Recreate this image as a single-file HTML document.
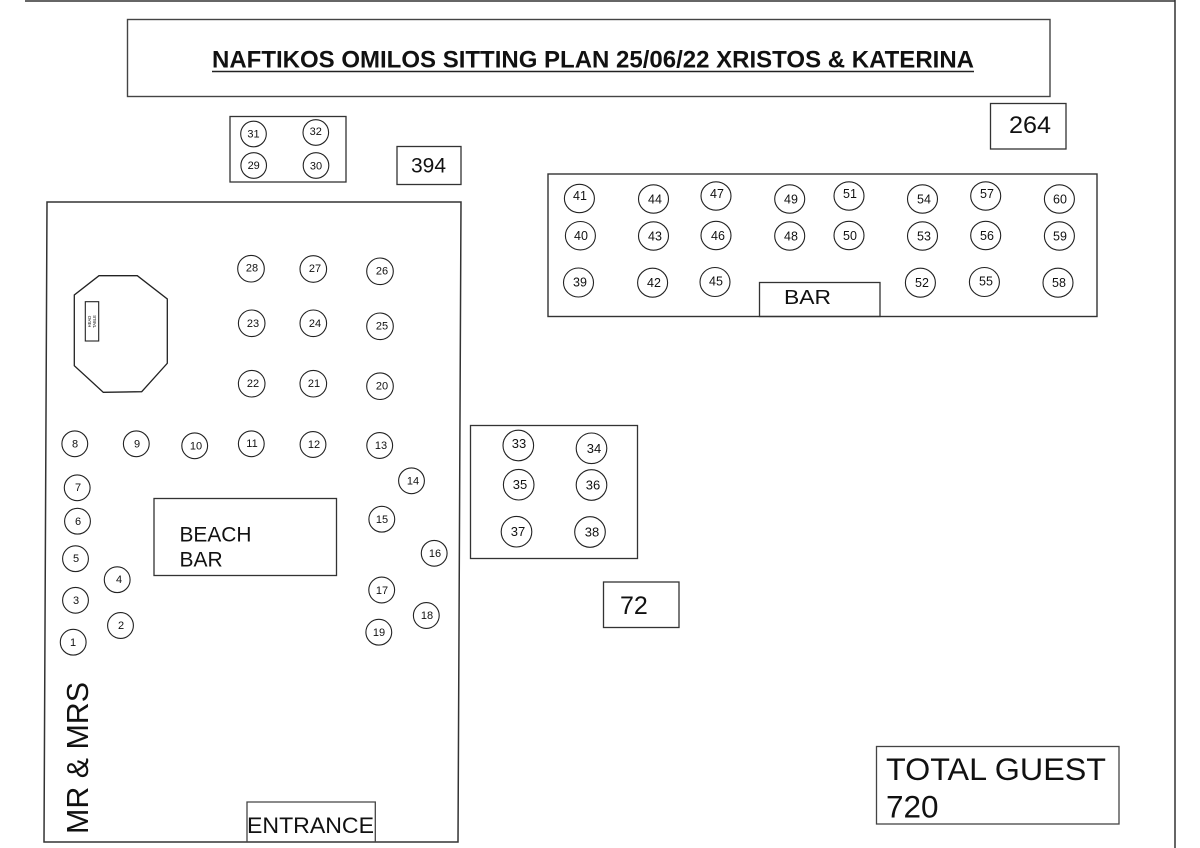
<!DOCTYPE html>
<html>
<head>
<meta charset="utf-8">
<style>
  html,body{margin:0;padding:0;background:#fff;}
  svg{display:block;}
  text{font-family:"Liberation Sans", Arial, sans-serif; fill:#111;}
</style>
</head>
<body>
<svg width="1200" height="848" viewBox="0 0 1200 848" xmlns="http://www.w3.org/2000/svg">
  <rect x="0" y="0" width="1200" height="848" fill="#fff"/>
  <!-- outer frame -->
  <line x1="25" y1="1" x2="1175" y2="1" stroke="#333" stroke-width="1.5"/>
  <line x1="1175" y1="0" x2="1175" y2="848" stroke="#333" stroke-width="1.5"/>

  <!-- title -->
  <rect x="127.5" y="19.5" width="922.5" height="77" fill="none" stroke="#444" stroke-width="1.4"/>
  <text x="212" y="67.5" font-size="24" font-weight="bold" textLength="762" lengthAdjust="spacingAndGlyphs">NAFTIKOS OMILOS SITTING PLAN 25/06/22 XRISTOS &amp; KATERINA</text>
  <line x1="212" y1="71.5" x2="974" y2="71.5" stroke="#222" stroke-width="1.6"/>

  <!-- small group 29-32 -->
  <rect x="230" y="116.5" width="116" height="65.5" fill="none" stroke="#333" stroke-width="1.3"/>
  <g fill="none" stroke="#222" stroke-width="1.1">
    <circle cx="253.5" cy="134" r="12.8"/>
    <circle cx="315.8" cy="132.5" r="12.8"/>
    <circle cx="253.7" cy="165.5" r="12.8"/>
    <circle cx="316" cy="165.5" r="12.8"/>
  </g>
  <g font-size="11" text-anchor="middle">
    <text x="253.5" y="137.5">31</text>
    <text x="315.8" y="135">32</text>
    <text x="253.7" y="169">29</text>
    <text x="316" y="169.5">30</text>
  </g>

  <!-- 394 -->
  <rect x="397" y="146.5" width="64" height="38" fill="none" stroke="#333" stroke-width="1.3"/>
  <text x="411" y="172.5" font-size="21" textLength="35" lengthAdjust="spacingAndGlyphs">394</text>

  <!-- 264 -->
  <rect x="990.5" y="103.5" width="75.5" height="45.5" fill="none" stroke="#333" stroke-width="1.3"/>
  <text x="1009" y="133" font-size="24" textLength="42" lengthAdjust="spacingAndGlyphs">264</text>

  <!-- BAR area -->
  <rect x="548" y="174" width="549" height="142.5" fill="none" stroke="#333" stroke-width="1.4"/>
  <rect x="759.5" y="282.5" width="120.5" height="34" fill="none" stroke="#333" stroke-width="1.3"/>
  <text x="784" y="304" font-size="20" textLength="47" lengthAdjust="spacingAndGlyphs">BAR</text>

  <g fill="none" stroke="#222" stroke-width="1.1">
    <ellipse cx="579.4" cy="198.5" rx="15" ry="14.2"/>
    <ellipse cx="653.5" cy="199" rx="15" ry="14.2"/>
    <ellipse cx="716" cy="196" rx="15" ry="14.2"/>
    <ellipse cx="789.7" cy="199" rx="15" ry="14.2"/>
    <ellipse cx="849" cy="196" rx="15" ry="14.2"/>
    <ellipse cx="922.5" cy="199" rx="15" ry="14.2"/>
    <ellipse cx="985.7" cy="196" rx="15" ry="14.2"/>
    <ellipse cx="1059.4" cy="199" rx="15" ry="14.2"/>

    <ellipse cx="580.4" cy="235.7" rx="15" ry="14.2"/>
    <ellipse cx="653.5" cy="236" rx="15" ry="14.2"/>
    <ellipse cx="716" cy="235.5" rx="15" ry="14.2"/>
    <ellipse cx="789.7" cy="236" rx="15" ry="14.2"/>
    <ellipse cx="849" cy="235.5" rx="15" ry="14.2"/>
    <ellipse cx="922.5" cy="236" rx="15" ry="14.2"/>
    <ellipse cx="985.7" cy="235.5" rx="15" ry="14.2"/>
    <ellipse cx="1059.4" cy="236" rx="15" ry="14.2"/>

    <ellipse cx="578.5" cy="282.5" rx="15" ry="14.5"/>
    <ellipse cx="652.6" cy="282.7" rx="15" ry="14.5"/>
    <ellipse cx="715" cy="282" rx="15" ry="14.5"/>
    <ellipse cx="920.4" cy="282.7" rx="15" ry="14.5"/>
    <ellipse cx="984.4" cy="282" rx="15" ry="14.5"/>
    <ellipse cx="1058" cy="282.7" rx="15" ry="14.5"/>
  </g>
  <g font-size="12.5" text-anchor="middle">
    <text x="580" y="200">41</text>
    <text x="655" y="203.5">44</text>
    <text x="717" y="198">47</text>
    <text x="791" y="203.5">49</text>
    <text x="850" y="198">51</text>
    <text x="924" y="203.5">54</text>
    <text x="987" y="198">57</text>
    <text x="1060" y="203.5">60</text>

    <text x="581" y="240">40</text>
    <text x="655" y="240.5">43</text>
    <text x="718" y="240">46</text>
    <text x="791" y="240.5">48</text>
    <text x="850" y="240">50</text>
    <text x="924" y="240.5">53</text>
    <text x="987" y="240">56</text>
    <text x="1060" y="240.5">59</text>

    <text x="580" y="286.5">39</text>
    <text x="654" y="287">42</text>
    <text x="716" y="285.5">45</text>
    <text x="922" y="287">52</text>
    <text x="986" y="285.5">55</text>
    <text x="1059" y="287">58</text>
  </g>

  <!-- main left hall -->
  <polygon points="47,202 461,202 458,842 44,842" fill="none" stroke="#333" stroke-width="1.5"/>

  <!-- octagon head table -->
  <polygon points="99,275.7 137.3,275.7 167.3,299 167.3,363.3 141.7,391.7 103.3,392.3 74.3,365.7 74.3,295" fill="none" stroke="#222" stroke-width="1.3"/>
  <rect x="85.3" y="301.7" width="13.4" height="39.3" fill="none" stroke="#222" stroke-width="1.1"/>
  <g font-size="4.2" text-anchor="middle" transform="translate(92,321.5) rotate(-90)">
    <text x="0" y="-1">HEAD</text>
    <text x="0" y="4">TABLE</text>
  </g>

  <!-- left hall circles -->
  <g fill="none" stroke="#222" stroke-width="1.1">
    <circle cx="251" cy="268.7" r="13.3"/>
    <circle cx="313.3" cy="269" r="13.3"/>
    <circle cx="380" cy="271.3" r="13.3"/>
    <circle cx="251.7" cy="323.3" r="13.3"/>
    <circle cx="313.3" cy="323.3" r="13.3"/>
    <circle cx="380" cy="326.3" r="13.3"/>
    <circle cx="251.7" cy="383.7" r="13.3"/>
    <circle cx="313.3" cy="383.7" r="13.3"/>
    <circle cx="380" cy="386.2" r="13.3"/>
    <circle cx="74.8" cy="443.8" r="12.9"/>
    <circle cx="136.3" cy="443.8" r="12.9"/>
    <circle cx="194.7" cy="445.8" r="12.9"/>
    <circle cx="251.3" cy="443.8" r="12.9"/>
    <circle cx="313" cy="444.5" r="12.9"/>
    <circle cx="379.7" cy="445.5" r="12.9"/>

    <circle cx="77.2" cy="487.8" r="12.9"/>
    <circle cx="77.5" cy="521.2" r="12.9"/>
    <circle cx="75.5" cy="558.7" r="12.9"/>
    <circle cx="117.2" cy="579.7" r="12.9"/>
    <circle cx="75.5" cy="600.3" r="12.9"/>
    <circle cx="120.5" cy="625.5" r="12.9"/>
    <circle cx="73.2" cy="642.2" r="12.9"/>
    <circle cx="411.5" cy="480.8" r="12.9"/>
    <circle cx="381.8" cy="519.2" r="12.9"/>
    <circle cx="434.2" cy="553.3" r="12.9"/>
    <circle cx="381.7" cy="590" r="12.9"/>
    <circle cx="426.3" cy="615.5" r="12.9"/>
    <circle cx="378.8" cy="632.2" r="12.9"/>
  </g>
  <g font-size="11" text-anchor="middle">
    <text x="252" y="271.5">28</text>
    <text x="315" y="272">27</text>
    <text x="382" y="274.5">26</text>
    <text x="253" y="327">23</text>
    <text x="315" y="327">24</text>
    <text x="382" y="329.5">25</text>
    <text x="253" y="387">22</text>
    <text x="314" y="387">21</text>
    <text x="382" y="389.5">20</text>
    <text x="75" y="447.5">8</text>
    <text x="137" y="447.5">9</text>
    <text x="196" y="449.5">10</text>
    <text x="252" y="447">11</text>
    <text x="314" y="448">12</text>
    <text x="381" y="449">13</text>

    <text x="78" y="491">7</text>
    <text x="78" y="525">6</text>
    <text x="76" y="562">5</text>
    <text x="119" y="583">4</text>
    <text x="76" y="604">3</text>
    <text x="121" y="629">2</text>
    <text x="73" y="646">1</text>
    <text x="413" y="484.5">14</text>
    <text x="382" y="523">15</text>
    <text x="435" y="557">16</text>
    <text x="382" y="594">17</text>
    <text x="427" y="619">18</text>
    <text x="379" y="636">19</text>
  </g>

  <!-- beach bar -->
  <rect x="154" y="498.5" width="182.5" height="77" fill="none" stroke="#333" stroke-width="1.3"/>
  <text x="179.5" y="541.5" font-size="21" textLength="72" lengthAdjust="spacingAndGlyphs">BEACH</text>
  <text x="179.5" y="566.5" font-size="21">BAR</text>

  <!-- MR & MRS -->
  <text transform="translate(88,834) rotate(-90)" font-size="31" textLength="152" lengthAdjust="spacingAndGlyphs">MR &amp; MRS</text>

  <!-- entrance -->
  <polyline points="247,842 247,802 375.3,802 375.3,842" fill="none" stroke="#444" stroke-width="1.3"/>
  <text x="247" y="833" font-size="22" textLength="127" lengthAdjust="spacingAndGlyphs">ENTRANCE</text>

  <!-- group 33-38 -->
  <rect x="470.5" y="425.5" width="167" height="133" fill="none" stroke="#333" stroke-width="1.3"/>
  <g fill="none" stroke="#222" stroke-width="1.1">
    <circle cx="518.3" cy="445.5" r="15.3"/>
    <circle cx="591.5" cy="448.3" r="15.3"/>
    <circle cx="518.7" cy="484.7" r="15.3"/>
    <circle cx="591.5" cy="485" r="15.3"/>
    <circle cx="516.5" cy="531.7" r="15.3"/>
    <circle cx="590" cy="532" r="15.3"/>
  </g>
  <g font-size="13" text-anchor="middle">
    <text x="519" y="448">33</text>
    <text x="594" y="453">34</text>
    <text x="520" y="489">35</text>
    <text x="593" y="489.5">36</text>
    <text x="518" y="536">37</text>
    <text x="592" y="536.5">38</text>
  </g>

  <!-- 72 -->
  <rect x="603.5" y="582" width="75.5" height="45.5" fill="none" stroke="#333" stroke-width="1.3"/>
  <text x="620" y="614" font-size="25">72</text>

  <!-- total guest -->
  <rect x="876.5" y="746.5" width="242.5" height="77.5" fill="none" stroke="#444" stroke-width="1.3"/>
  <text x="886" y="780" font-size="31.5" textLength="220" lengthAdjust="spacingAndGlyphs">TOTAL GUEST</text>
  <text x="886" y="817.5" font-size="31.5">720</text>
</svg>
</body>
</html>
